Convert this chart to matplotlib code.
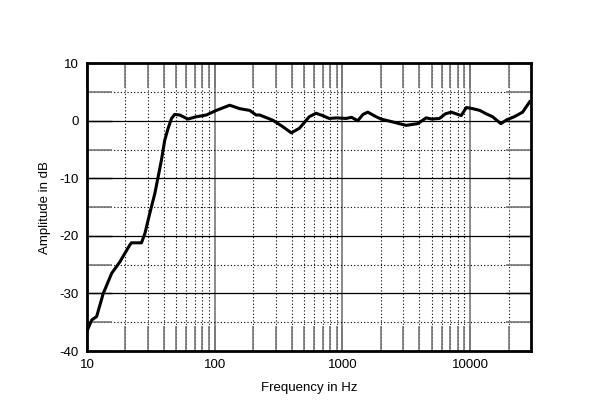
import matplotlib
matplotlib.use("Agg")
import matplotlib.pyplot as plt
from matplotlib.ticker import FixedLocator, NullFormatter

plt.rcParams['font.family'] = ['Liberation Sans', 'DejaVu Sans']

# frequency response
freq_hz = [10, 10.9, 11.9, 13.4, 15.6, 18.1, 21.6, 22.3, 26.7, 28.4, 31, 34,
           36.1, 38.3, 40.6, 43.2, 45.9, 48.6, 53.2, 61.6, 71.9, 86, 103, 131,
           157, 188, 211, 225, 285, 340, 398, 461, 550, 622, 700, 788, 900,
           1067, 1180, 1318, 1450, 1580, 1800, 2004, 2474, 3155, 3890, 4530,
           5000, 5758, 6400, 7110, 8530, 9330, 10500, 11900, 13400, 15000,
           17400, 19500, 22200, 25800, 29300]
level_db = [-36.5, -34.6, -34.0, -30.0, -26.5, -24.5, -21.6, -21.2, -21.2,
            -19.6, -16.1, -12.6, -9.7, -6.8, -3.4, -1.3, 0.4, 1.1, 1.0, 0.3,
            0.7, 1.0, 1.8, 2.7, 2.1, 1.8, 1.0, 1.0, 0.1, -1.0, -2.1, -1.3, 0.7,
            1.3, 0.9, 0.4, 0.5, 0.4, 0.6, 0.0, 1.1, 1.5, 0.8, 0.3, -0.2, -0.8,
            -0.5, 0.5, 0.3, 0.4, 1.2, 1.5, 0.9, 2.3, 2.1, 1.8, 1.2, 0.7, -0.5,
            0.2, 0.7, 1.5, 3.3]

fig = plt.figure(figsize=(6, 4.13), dpi=100)
ax = fig.add_axes([0.145, 0.150, 0.740, 0.697])

xmin, xmax = 10, 30000
ymin, ymax = -40, 10

major_x = [10, 100, 1000, 10000]
minor_x = [m * d for d in [10, 100, 1000, 10000] for m in range(2, 10) if m * d < xmax]
major_y = [-40, -30, -20, -10, 0, 10]
minor_y = [-35, -25, -15, -5, 5]

# grid lines
for x in major_x[1:]:
    ax.axvline(x, color='#777777', lw=1.2, zorder=1)
for x in minor_x:
    ax.axvline(x, color='black', lw=0.8, ls=(0, (1, 2)), zorder=1)
for y in major_y[1:-1]:
    ax.axhline(y, color='black', lw=0.9, zorder=1)
for y in minor_y:
    ax.axhline(y, color='black', lw=0.8, ls=(0, (1, 2)), zorder=1)

ax.plot(freq_hz, level_db, color='black', lw=2.2, zorder=3, solid_joinstyle='round')

ax.set_xscale('log')
ax.set_xlim(xmin, xmax)
ax.set_ylim(ymin, ymax)

ax.xaxis.set_major_locator(FixedLocator(major_x))
ax.xaxis.set_minor_locator(FixedLocator(minor_x))
ax.xaxis.set_minor_formatter(NullFormatter())
ax.set_xticklabels(['10', '100', '1000', '10000'])
ax.yaxis.set_major_locator(FixedLocator(major_y))
ax.yaxis.set_minor_locator(FixedLocator(minor_y))
ax.set_yticklabels([str(v) for v in major_y])

ax.tick_params(which='both', direction='in', top=True, right=True,
               length=18, width=1.2, color='#777777', labelsize=9.5, pad=6)
ax.tick_params(which='major', axis='y', color='black', width=1.0)

for s in ax.spines.values():
    s.set_linewidth(2)
    s.set_zorder(4)

ax.set_xlabel('Frequency in Hz', fontsize=9.5, labelpad=8)
ax.set_ylabel('Amplitude in dB', fontsize=9.5, labelpad=6)

fig.savefig('out.png', dpi=100)
